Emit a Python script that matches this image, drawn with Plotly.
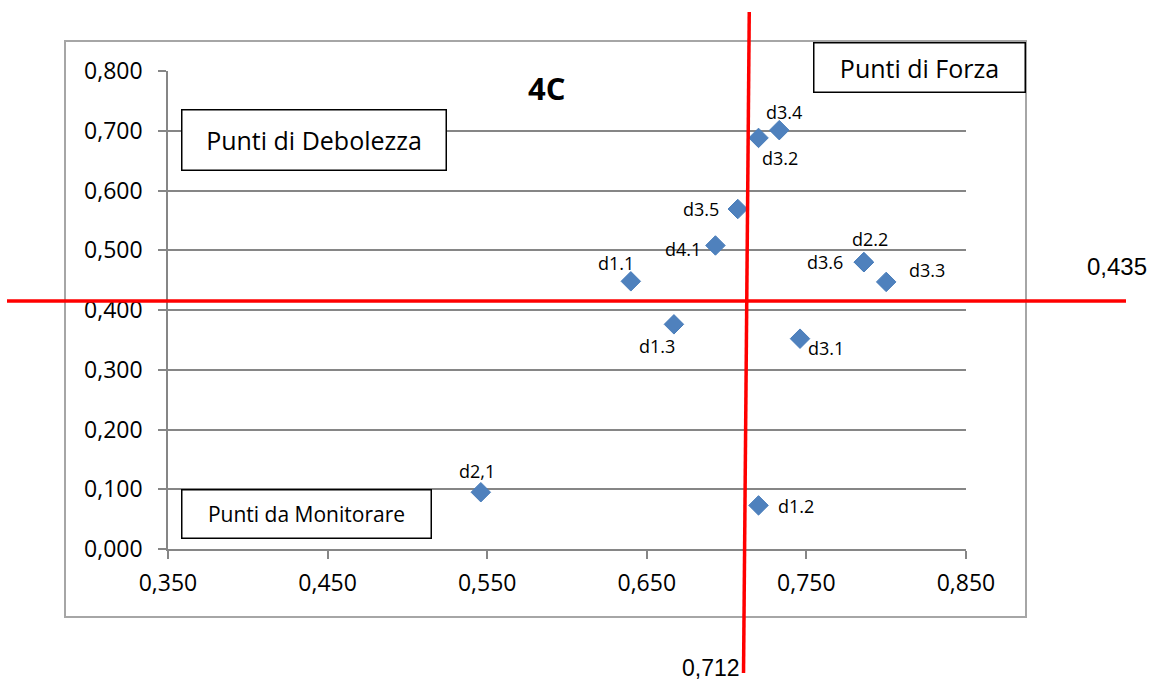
import plotly.graph_objects as go

# ---------------- data ----------------
labels = ["d1.1", "d1.2", "d1.3", "d2,1", "d2.2", "d3.6",
          "d3.1", "d3.2", "d3.3", "d3.4", "d3.5", "d4.1"]
x_vals = [0.640, 0.720, 0.667, 0.546, 0.786, 0.786,
          0.746, 0.720, 0.800, 0.733, 0.707, 0.693]
y_vals = [0.448, 0.073, 0.376, 0.095, 0.480, 0.480,
          0.352, 0.688, 0.447, 0.701, 0.569, 0.508]

x_tick_vals = [0.35, 0.45, 0.55, 0.65, 0.75, 0.85]
x_tick_text = ["0,350", "0,450", "0,550", "0,650", "0,750", "0,850"]
y_tick_vals = [0.0, 0.1, 0.2, 0.3, 0.4, 0.5, 0.6, 0.7, 0.8]
y_tick_text = ["0,000", "0,100", "0,200", "0,300", "0,400",
               "0,500", "0,600", "0,700", "0,800"]

# threshold lines (drawn by hand in the original, slightly tilted vertical one)
x_threshold_top = 0.7142
x_threshold_bottom = 0.7106
x_threshold_text = "0,712"
y_threshold_drawn = 0.415
y_threshold_text = "0,435"

title_text = "4C"
box_forza = "Punti di Forza"
box_debolezza = "Punti di Debolezza"
box_monitorare = "Punti da Monitorare"

# ---------------- style / layout ----------------
# label offsets from each marker, in pixels (x right, y down)
label_dx = [-15, 37, -17, -4, 6, -39, 26, 21, 41, 5, -37, -32]
label_dy = [-18, 1, 22, -21, -23, 0, 9, 20, -12, -18, 0, 4]

W, H = 1152, 681
L, R, T, B = 168, 186, 71, 132
PW, PH = W - L - R, H - T - B
FONT = "Open Sans"
GRID = "#868686"


def px(x):
    return (x - L) / PW


def py(y):
    return (H - B - y) / PH


fig = go.Figure()
fig.add_trace(go.Scatter(
    x=x_vals, y=y_vals, mode="markers",
    marker=dict(symbol="diamond", size=15, color="#4F81BD",
                line=dict(color="#4A7EBB", width=1)),
    cliponaxis=False, showlegend=False, hoverinfo="skip",
))

axis_common = dict(
    showline=True, linecolor=GRID, linewidth=1.5,
    ticks="outside", ticklen=8, tickcolor=GRID, tickwidth=1.5,
    zeroline=False, tickfont=dict(family=FONT, size=23, color="black"),
)

fig.update_layout(
    width=W, height=H,
    margin=dict(l=L, r=R, t=T, b=B, pad=0),
    paper_bgcolor="white", plot_bgcolor="white",
    xaxis=dict(range=[0.35, 0.85], tickvals=x_tick_vals, ticktext=x_tick_text,
               showgrid=False, ticklabelstandoff=5, **axis_common),
    yaxis=dict(range=[0, 0.8], tickvals=y_tick_vals, ticktext=y_tick_text,
               showgrid=True, gridcolor=GRID, gridwidth=1.5,
               ticklabelstandoff=11, **axis_common),
    font=dict(family=FONT, color="black"),
)

shapes = [
    # outer chart frame
    dict(type="rect", xref="paper", yref="paper",
         x0=px(65), x1=px(1026), y0=py(617), y1=py(41),
         line=dict(color="#A6A6A6", width=2), layer="above"),
    # horizontal red threshold
    dict(type="line", xref="paper", yref="y",
         x0=px(7), x1=px(1126), y0=y_threshold_drawn, y1=y_threshold_drawn,
         line=dict(color="#FF0000", width=3.5), layer="above"),
    # vertical red threshold
    dict(type="line", xref="x", yref="paper",
         x0=x_threshold_top, x1=x_threshold_bottom, y0=py(12), y1=py(673),
         line=dict(color="#FF0000", width=3.5), layer="above"),
]
fig.update_layout(shapes=shapes)


def box(text, cx, cy, w, h, size):
    return dict(text=text, xref="paper", yref="paper", x=px(cx), y=py(cy),
                xanchor="center", yanchor="middle", showarrow=False,
                width=w - 3, height=h - 3, borderpad=0, borderwidth=1.5,
                bordercolor="black", bgcolor="white",
                font=dict(family=FONT, size=size, color="black"))


annotations = [
    dict(text=lab, x=xv, y=yv, xref="x", yref="y", showarrow=False,
         xanchor="center", yanchor="middle", xshift=dx, yshift=-dy,
         font=dict(family=FONT, size=18, color="black"))
    for lab, xv, yv, dx, dy in zip(labels, x_vals, y_vals, label_dx, label_dy)
]
annotations += [
    box(box_forza, 919.5, 67.5, 213, 51, 25),
    box(box_debolezza, 314, 140, 266, 62, 25),
    box(box_monitorare, 306.5, 514, 251, 50, 21),
    dict(text="<b>" + title_text + "</b>", xref="paper", yref="paper",
         x=px(546), y=py(88), xanchor="center", yanchor="middle",
         showarrow=False, font=dict(family=FONT, size=31, color="black")),
    dict(text=y_threshold_text, xref="paper", yref="paper",
         x=px(1117), y=py(266), xanchor="center", yanchor="middle",
         showarrow=False, font=dict(family="Liberation Sans", size=24, color="black")),
    dict(text=x_threshold_text, xref="paper", yref="paper",
         x=px(742), y=py(668), xanchor="right", yanchor="middle",
         showarrow=False, font=dict(family="Liberation Sans", size=23, color="black")),
]
fig.update_layout(annotations=annotations)

fig.write_html(
    "out.html",
    config={"displayModeBar": False},
    post_script="document.body.style.margin='0';document.body.style.overflow='hidden';",
)
